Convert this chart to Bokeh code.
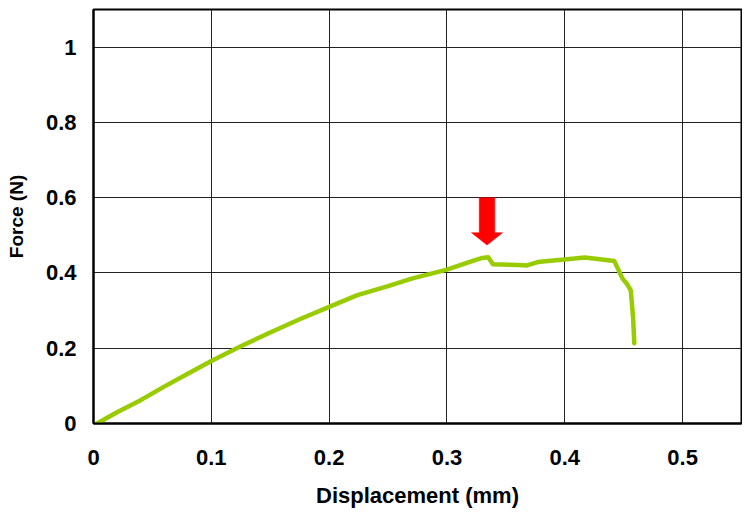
from bokeh.plotting import figure
from bokeh.models import FixedTicker, Range1d
from bokeh.embed import file_html
from bokeh.resources import INLINE

# --- data ---
displacement = [0.003, 0.02, 0.04, 0.06, 0.08, 0.10, 0.125, 0.15, 0.175, 0.20,
                0.224, 0.25, 0.27, 0.29, 0.30, 0.32, 0.33, 0.335, 0.339, 0.36,
                0.368, 0.377, 0.39, 0.40, 0.417, 0.428, 0.442, 0.449, 0.453,
                0.456, 0.458, 0.459]
force = [0.0, 0.030, 0.062, 0.098, 0.132, 0.166, 0.205, 0.242, 0.277, 0.310,
         0.341, 0.365, 0.385, 0.401, 0.409, 0.430, 0.440, 0.442, 0.423, 0.421,
         0.420, 0.429, 0.433, 0.436, 0.441, 0.437, 0.432, 0.385, 0.370,
         0.354, 0.280, 0.213]

x_ticks = [0, 0.1, 0.2, 0.3, 0.4, 0.5]
x_tick_labels = ["0", "0.1", "0.2", "0.3", "0.4", "0.5"]
y_ticks = [0, 0.2, 0.4, 0.6, 0.8, 1.0]
y_tick_labels = ["0", "0.2", "0.4", "0.6", "0.8", "1"]

# arrow annotation marking the peak
arrow_x = 0.334
arrow_top = 0.600
arrow_tip = 0.474

FONT = "Liberation Sans"

p = figure(width=742, height=510, output_backend="svg", toolbar_location=None,
           x_range=Range1d(0, 0.55), y_range=Range1d(0, 1.1),
           min_border_left=93, min_border_right=1, min_border_top=9,
           min_border_bottom=86)
p.background_fill_color = "white"
p.border_fill_color = "white"
p.outline_line_color = "black"
p.outline_line_width = 2

for ax in (p.xaxis[0], p.yaxis[0]):
    ax.axis_line_color = "black"
    ax.axis_line_width = 2
    ax.major_tick_out = 0
    ax.major_tick_in = 0
    ax.minor_tick_out = 0
    ax.minor_tick_in = 0
    ax.major_label_text_font = FONT
    ax.major_label_text_font_style = "bold"
    ax.major_label_text_font_size = "22px"
    ax.major_label_text_color = "black"
    ax.axis_label_text_font = FONT
    ax.axis_label_text_font_style = "bold"
    ax.axis_label_text_color = "black"

p.xaxis.ticker = FixedTicker(ticks=x_ticks)
p.xaxis.major_label_overrides = dict(zip(x_ticks, x_tick_labels))
p.yaxis.ticker = FixedTicker(ticks=y_ticks)
p.yaxis.major_label_overrides = dict(zip(y_ticks, y_tick_labels))
p.xaxis.major_label_standoff = 26
p.yaxis.major_label_standoff = 17
p.xaxis.axis_label = "Displacement (mm)"
p.yaxis.axis_label = "Force (N)"
p.xaxis.axis_label_text_font_size = "22px"
p.yaxis.axis_label_text_font_size = "19px"
p.xaxis.axis_label_standoff = 15
p.yaxis.axis_label_standoff = 16

p.xgrid.grid_line_color = "#222222"
p.ygrid.grid_line_color = "#222222"
p.xgrid.grid_line_width = 1
p.ygrid.grid_line_width = 1
p.xgrid.grid_line_alpha = 1
p.ygrid.grid_line_alpha = 1

p.line(displacement, force, line_color="#99CC00", line_width=4.5,
       line_join="round", line_cap="round")

# red arrow (shaft + flat head), in data units from the arrow variables
shaft_half = 0.0066
head_half = 0.0132
head_len = 0.033
head_base = arrow_tip + head_len
ax_pts = [arrow_x - shaft_half, arrow_x + shaft_half, arrow_x + shaft_half,
          arrow_x + head_half, arrow_x, arrow_x - head_half, arrow_x - shaft_half]
ay_pts = [arrow_top, arrow_top, head_base, head_base, arrow_tip, head_base, head_base]
p.patch(ax_pts, ay_pts, fill_color="#FF0000", line_color="#FF0000", line_width=0.5)

open("out.html", "w").write(file_html(p, INLINE))
